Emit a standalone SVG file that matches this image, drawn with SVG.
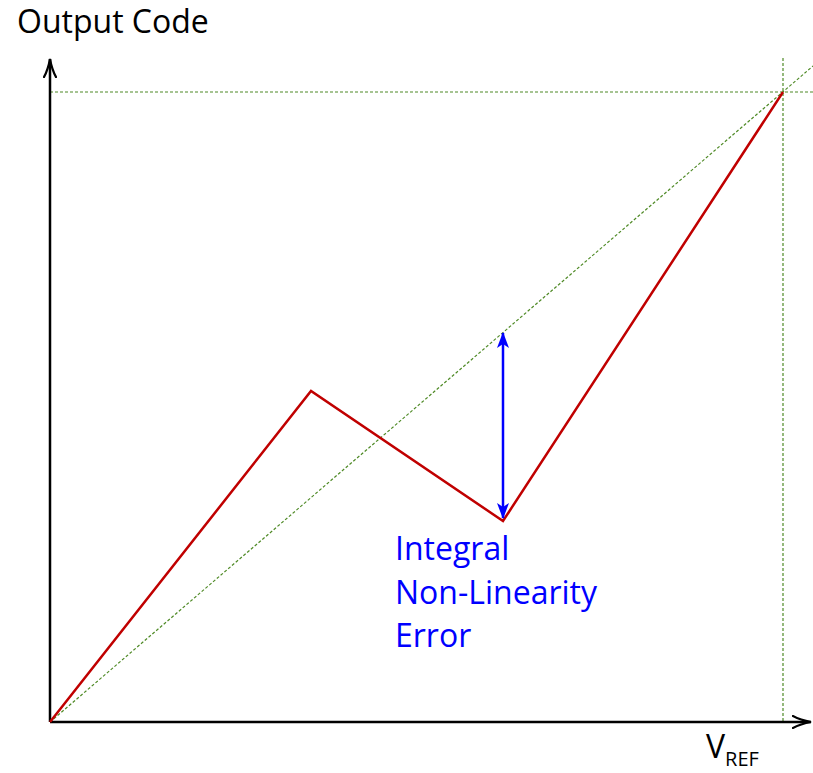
<svg xmlns="http://www.w3.org/2000/svg" width="813" height="773" viewBox="0 0 813 773">
<style>
.lbl{font-family:"Open Sans","Liberation Sans",sans-serif;font-size:32px}
.guide{fill:none;stroke:#4f8a26;stroke-width:1.2;stroke-dasharray:3 2}
.axis{fill:none;stroke:#000;stroke-width:2.5}
</style>
<defs>
<marker id="ah" viewBox="0 0 20 14" refX="19" refY="7" markerWidth="20" markerHeight="14" markerUnits="userSpaceOnUse" orient="auto">
<path d="M0,0.5 Q8,5 19,7 Q8,9 0,13.5" fill="none" stroke="#000" stroke-width="2.2"/>
</marker>
<marker id="bh" viewBox="0 0 16 12" refX="15" refY="6" markerWidth="16" markerHeight="12" markerUnits="userSpaceOnUse" orient="auto-start-reverse">
<path d="M0,0 L16,6 L0,12 L4,6 Z" fill="#0000ff"/>
</marker>
</defs>
<g id="connectors">
<line class="guide" x1="50" y1="92" x2="813" y2="92"/>
<line class="guide" x1="783" y1="58" x2="783" y2="722"/>
<line class="guide" x1="50" y1="722" x2="813" y2="66"/>
<line class="axis" x1="50" y1="722" x2="50" y2="59" marker-end="url(#ah)"/>
<line class="axis" x1="50" y1="722" x2="811" y2="722" marker-end="url(#ah)"/>
<polyline points="50,722 311,391 503,521 783,92" fill="none" stroke="#c00000" stroke-width="2.5" stroke-linejoin="miter"/>
<line x1="503" y1="333" x2="503" y2="518" stroke="#0000ff" stroke-width="2.5" marker-start="url(#bh)" marker-end="url(#bh)"/>
</g>
<g id="label-output-code"><text class="lbl" x="17" y="33" fill="#000">Output Code</text></g>
<g id="label-vref"><text class="lbl" x="706" y="758" fill="#000">V<tspan font-size="20" dy="8">REF</tspan></text></g>
<g id="label-inl"><text class="lbl" fill="#0000ff"><tspan x="395" y="560">Integral</tspan><tspan x="395" y="604">Non-Linearity</tspan><tspan x="395" y="647">Error</tspan></text></g>
</svg>
